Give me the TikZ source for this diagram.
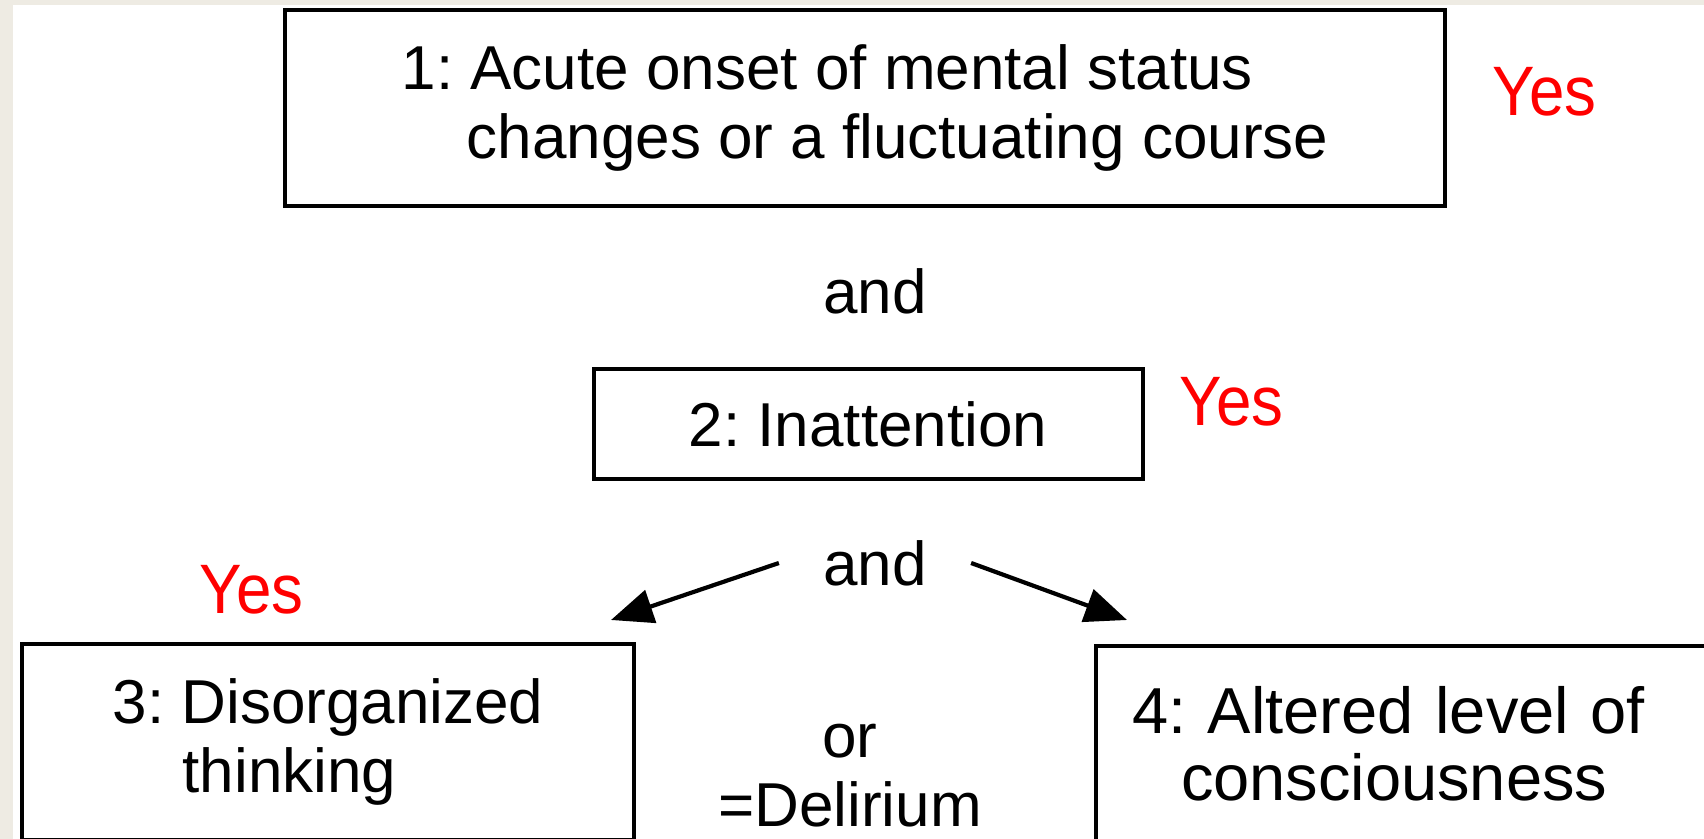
\documentclass[tikz,border=0pt]{standalone}
\usepackage{fontspec}
\setmainfont{Liberation Sans}
\newfontfamily\answerfont[FakeStretch=0.91]{Liberation Sans}
\usepackage{tikz}
\usetikzlibrary{arrows.meta}
\definecolor{slidebg}{HTML}{EEEBE3}
\frenchspacing

\begin{document}
\begin{tikzpicture}[x=0.5pt, y=-0.5pt,
		critbox/.style={rectangle, draw, line width=2pt, align=left, font=\fontsize{31}{34.5}\selectfont},
		joiner/.style={font=\fontsize{31}{34.5}\selectfont},
		yes/.style={text=red, anchor=base west, inner sep=0pt, font=\answerfont\fontsize{35}{38}\selectfont},
		arr/.style={-{Triangle[length=21pt, width=17pt]}, line width=2.1pt}]
		% Slide background
		\fill[slidebg] (0,0) rectangle (1704,839);
		\fill[white] (13,5) rectangle (1704,839);
		\useasboundingbox (0,0) rectangle (1704,839);
		\clip (0,0) rectangle (1704,839);

		% Feature 1
		\node (crit1) [critbox, minimum width=580pt, minimum height=98pt] at (865,108) {1: Acute onset of mental status\\\hspace*{32.5pt}changes or a fluctuating course};
		\node (and1) [joiner] at (875,291) {and};

		% Feature 2
		\node (crit2) [critbox, minimum width=274.5pt, minimum height=55pt] at (868,424) {2: Inattention};
		\node (and2) [joiner, inner xsep=22pt] at (875,563) {and};

		% Features 3 and 4
		\node (crit3) [critbox, minimum width=306pt, minimum height=98pt] at (328,742) {3: Disorganized\\\hspace*{35pt}thinking};
		\node (crit4) [critbox, anchor=north west, text width=300pt, inner xsep=18pt, minimum height=98pt, font=\fontsize{32.5}{33.5}\selectfont] at (1094,644) {4: Altered level of\\\hspace*{24.5pt}consciousness};
		\node (verdict) [joiner, align=center] at (850,776) {or\\=Delirium};

		% Arrows
		\coordinate (tipL) at (611,620);
		\coordinate (tipR) at (1127,620);
		\draw[arr] (and2.west) -- (tipL);
		\draw[arr] (and2.east) -- (tipR);

		% Answers
		\node (yes1) [yes] at (1492,116) {Yes};
		\node (yes2) [yes] at (1179,426) {Yes};
		\node (yes3) [yes] at (199,614) {Yes};
	\end{tikzpicture}
\end{document}
